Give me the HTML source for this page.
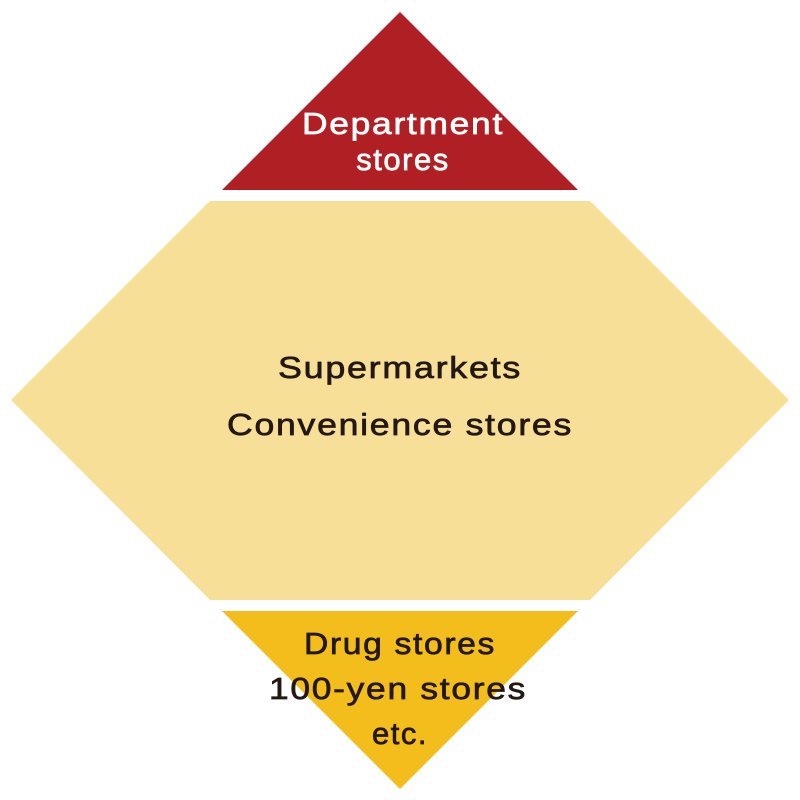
<!DOCTYPE html>
<html><head><meta charset="utf-8"><style>
html,body{margin:0;padding:0;background:#fff;}
svg{display:block}
text{font-family:"Liberation Sans","DejaVu Sans",sans-serif;font-size:31px;text-anchor:middle;letter-spacing:1.5px;stroke-width:0.7px;}
</style></head><body>
<svg width="800" height="800" viewBox="0 0 800 800">
<polygon points="400,12 578,190 222,190" fill="#b01f24"/>
<polygon points="210,201 590,201 789,400 590,600 210,600 11,400" fill="#f7df98"/>
<polygon points="222,611 578,611 400,789" fill="#f3bd1b"/>
<text x="403" y="134" fill="#fff" stroke="#fff" textLength="202" lengthAdjust="spacingAndGlyphs">Department</text>
<text x="403" y="170" fill="#fff" stroke="#fff">stores</text>
<text x="400" y="378" fill="#231815" stroke="#231815" textLength="244" lengthAdjust="spacingAndGlyphs">Supermarkets</text>
<text x="400" y="435" fill="#231815" stroke="#231815" textLength="346" lengthAdjust="spacingAndGlyphs">Convenience stores</text>
<text x="400" y="654" fill="#231815" stroke="#231815" textLength="192" lengthAdjust="spacingAndGlyphs">Drug stores</text>
<text x="398" y="699" fill="#231815" stroke="#231815" textLength="258" lengthAdjust="spacingAndGlyphs">100-yen stores</text>
<text x="400" y="744" fill="#231815" stroke="#231815">etc.</text>
</svg>
</body></html>
